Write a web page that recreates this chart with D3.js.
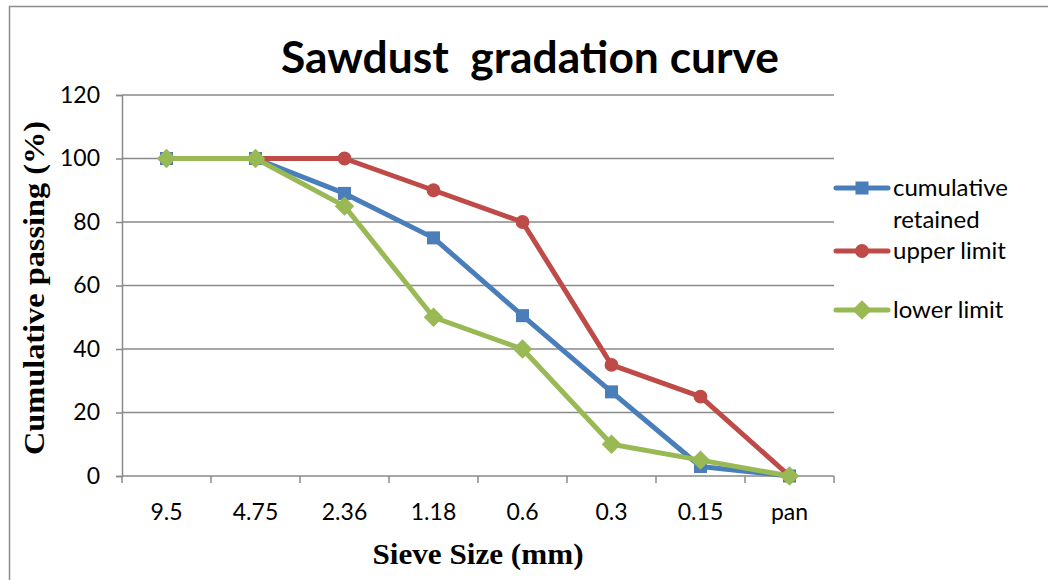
<!DOCTYPE html>
<meta charset="utf-8">
<script src="https://d3js.org/d3.v7.min.js"></script>
<style>
  body { margin: 0; background: #fff; }
  svg { display: block; }
  .tick text { font-family: Lato, "Open Sans", sans-serif; font-size: 23px; fill: #000; }
</style>
<body>
</body>
<script>
  // sieve sizes (categories)
  var sieves = ["9.5", "4.75", "2.36", "1.18", "0.6", "0.3", "0.15", "pan"];
  var cumulative = [100, 100, 89, 75, 50.5, 26.5, 3, 0];
  var upperLimit = [100, 100, 100, 90, 80, 35, 25, 0];
  var lowerLimit = [100, 100, 85, 50, 40, 10, 5, 0];
  var yTicks = [0, 20, 40, 60, 80, 100, 120];

  var series = [
    {name: "cumulative retained", values: cumulative, color: "#4A7EBB", shape: "square"},
    {name: "upper limit", values: upperLimit, color: "#BE4B48", shape: "circle"},
    {name: "lower limit", values: lowerLimit, color: "#98B954", shape: "diamond"}
  ];

  var W = 1048, H = 580;
  var margin = {top: 95, right: 214, bottom: 104, left: 122};
  var width = W - margin.left - margin.right,
      height = H - margin.top - margin.bottom;

  var svg = d3.select("body").append("svg")
      .attr("width", W)
      .attr("height", H);

  // outer chart border
  svg.append("rect")
    .attr("x", 9.5).attr("y", 6.5)
    .attr("width", W + 10).attr("height", H + 10)
    .attr("fill", "none")
    .attr("stroke", "#8c8c8c")
    .attr("stroke-width", 1.5);

  var g = svg.append("g")
      .attr("transform", "translate(" + margin.left + "," + margin.top + ")");

  var xScale = d3.scaleBand()
    .domain(sieves)
    .range([0, width]);

  var yScale = d3.scaleLinear()
    .domain([0, 120])
    .range([height, 0]);

  // gridlines
  g.append("g")
    .selectAll("line")
    .data(yTicks.slice(1))
    .enter().append("line")
    .attr("x1", 0).attr("x2", width)
    .attr("y1", function(d) { return yScale(d); })
    .attr("y2", function(d) { return yScale(d); })
    .attr("stroke", "#8a8a8a")
    .attr("stroke-width", 1.5);

  var yAxis = d3.axisLeft(yScale).tickValues(yTicks).tickSize(6).tickPadding(16);
  var yg = g.append("g").call(yAxis);
  yg.select(".domain").attr("stroke", "#8a8a8a").attr("stroke-width", 1.5);
  yg.selectAll(".tick line").attr("stroke", "#8a8a8a").attr("stroke-width", 1.5);

  var xg = g.append("g")
    .attr("transform", "translate(0," + height + ")")
    .call(d3.axisBottom(xScale).tickSize(0).tickPadding(28));
  xg.select(".domain").remove();
  xg.append("line")
    .attr("x1", 0).attr("x2", width)
    .attr("stroke", "#8a8a8a").attr("stroke-width", 1.5);
  // category boundary ticks
  var bounds = sieves.map(function(s) { return xScale(s); }).concat([width]);
  xg.selectAll(".bound")
    .data(bounds)
    .enter().append("line")
    .attr("class", "bound")
    .attr("x1", function(d) { return d; }).attr("x2", function(d) { return d; })
    .attr("y1", 0).attr("y2", 7)
    .attr("stroke", "#8a8a8a").attr("stroke-width", 1.5);

  var cx = function(i) { return xScale(sieves[i]) + xScale.bandwidth() / 2; };

  var line = d3.line()
    .x(function(d, i) { return cx(i); })
    .y(function(d) { return yScale(d); });

  var symbolFor = {
    square: d3.symbol().type(d3.symbolSquare).size(170),
    circle: d3.symbol().type(d3.symbolCircle).size(150),
    diamond: d3.symbol().type(d3.symbolSquare).size(190)
  };
  var rot = function(shape) { return shape === "diamond" ? " rotate(45)" : ""; };

  series.forEach(function(s) {
    g.append("path")
      .datum(s.values)
      .attr("fill", "none")
      .attr("stroke", s.color)
      .attr("stroke-width", 5)
      .attr("stroke-linejoin", "round")
      .attr("d", line);

    g.selectAll(".m-" + s.shape)
      .data(s.values)
      .enter().append("path")
      .attr("class", "m-" + s.shape)
      .attr("transform", function(d, i) {
        return "translate(" + cx(i) + "," + yScale(d) + ")" + rot(s.shape);
      })
      .attr("d", symbolFor[s.shape])
      .attr("fill", s.color);
  });

  // title
  svg.append("text")
    .attr("x", 530).attr("y", 73)
    .attr("text-anchor", "middle")
    .attr("textLength", 498)
    .attr("lengthAdjust", "spacingAndGlyphs")
    .style("font-family", "Lato, 'Open Sans', sans-serif")
    .style("font-weight", "bold")
    .style("font-size", "44px")
    .style("white-space", "pre")
    .text("Sawdust  gradation curve");

  // axis titles
  svg.append("text")
    .attr("transform", "translate(44,288) rotate(-90)")
    .attr("text-anchor", "middle")
    .attr("textLength", 334)
    .attr("lengthAdjust", "spacingAndGlyphs")
    .style("font-family", "'Liberation Serif', serif")
    .style("font-weight", "bold")
    .style("font-size", "30px")
    .text("Cumulative passing (%)");

  svg.append("text")
    .attr("x", 478).attr("y", 564)
    .attr("text-anchor", "middle")
    .attr("textLength", 211)
    .attr("lengthAdjust", "spacingAndGlyphs")
    .style("font-family", "'Liberation Serif', serif")
    .style("font-weight", "bold")
    .style("font-size", "30px")
    .text("Sieve Size (mm)");

  // legend
  var legendRows = [
    {s: series[0], y: 188, lines: ["cumulative", "retained"]},
    {s: series[1], y: 251, lines: ["upper limit"]},
    {s: series[2], y: 310, lines: ["lower limit"]}
  ];
  var lg = svg.append("g");
  legendRows.forEach(function(r) {
    lg.append("line")
      .attr("x1", 836).attr("x2", 888)
      .attr("y1", r.y).attr("y2", r.y)
      .attr("stroke", r.s.color).attr("stroke-width", 5)
      .attr("stroke-linecap", "round");
    lg.append("path")
      .attr("transform", "translate(862," + r.y + ")" + rot(r.s.shape))
      .attr("d", symbolFor[r.s.shape])
      .attr("fill", r.s.color);
    r.lines.forEach(function(t, k) {
      lg.append("text")
        .attr("x", 893).attr("y", r.y + 8 + k * 32)
        .style("font-family", "Lato, 'Open Sans', sans-serif")
        .style("font-size", "24px")
        .text(t);
    });
  });
</script>
